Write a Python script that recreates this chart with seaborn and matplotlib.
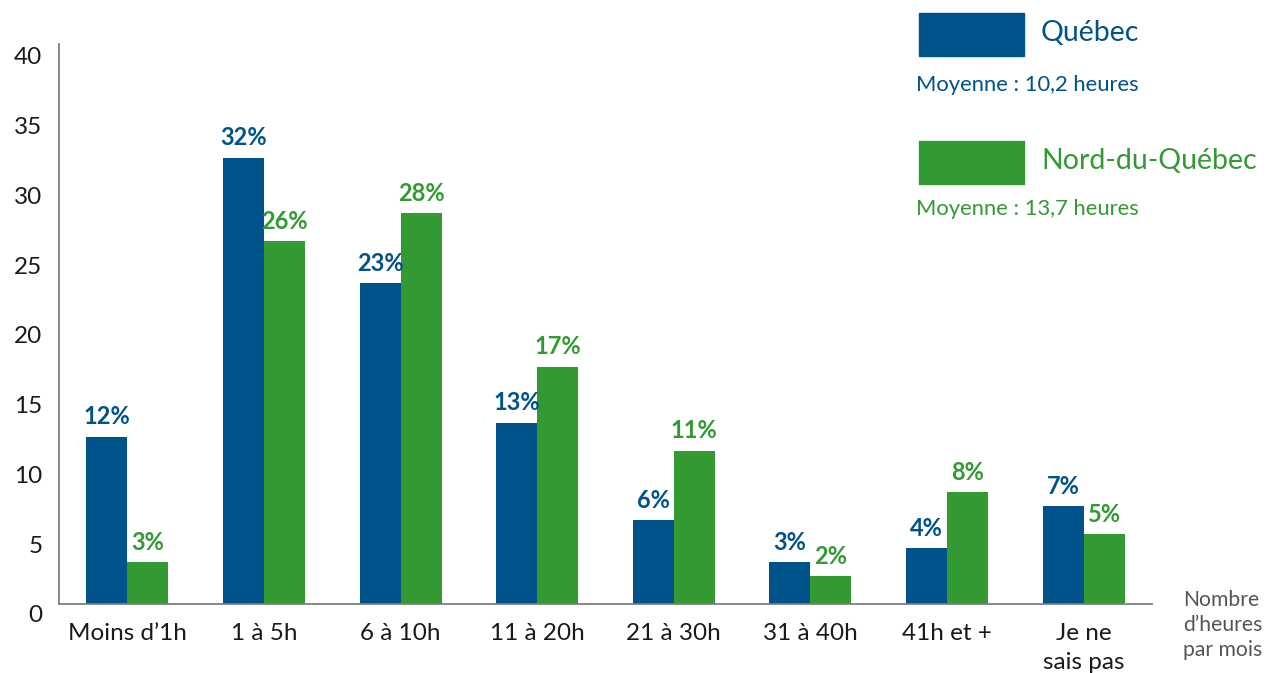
import pandas as pd
import matplotlib.pyplot as plt
import matplotlib.transforms as mtransforms
from matplotlib.patches import Rectangle
import seaborn as sns

categories = ["Moins d’1h", "1 à 5h", "6 à 10h", "11 à 20h", "21 à 30h",
              "31 à 40h", "41h et +", "Je ne\nsais pas"]
quebec = [12, 32, 23, 13, 6, 3, 4, 7]
nord = [3, 26, 28, 17, 11, 2, 8, 5]
series = ["Québec", "Nord-du-Québec"]
moyennes = ["Moyenne : 10,2 heures", "Moyenne : 13,7 heures"]
yticks = [0, 5, 10, 15, 20, 25, 30, 35, 40]

blue = "#00528a"
green = "#339933"

df = pd.DataFrame({
    "cat": categories * 2,
    "val": quebec + nord,
    "serie": [series[0]] * len(categories) + [series[1]] * len(categories),
})

sns.set_theme(style="white")
plt.rcParams["font.family"] = ["Lato", "DejaVu Sans"]

fig = plt.figure(figsize=(12.68, 6.73), dpi=100)
ax = fig.add_axes([59 / 1268, 69 / 673, (1152 - 59) / 1268, (604 - 44) / 673])

sns.barplot(data=df, x="cat", y="val", hue="serie", palette=[blue, green],
            width=0.6, saturation=1, legend=False, linewidth=0, ax=ax)

ax.set_xlim(-0.5, 7.5)
ax.set_ylim(0, 40.14)
ax.set_yticks(yticks)
ax.set_xlabel("")
ax.set_ylabel("")

for s in ["top", "right"]:
    ax.spines[s].set_visible(False)
for s in ["left", "bottom"]:
    ax.spines[s].set_color("#7f7f7f")
    ax.spines[s].set_linewidth(1.3)

ax.tick_params(axis="both", length=0, labelsize=17.5, colors="#1a1a1a")
ax.tick_params(axis="y", pad=12)
ax.tick_params(axis="x", pad=14)
for lab in ax.get_xticklabels():
    lab.set_verticalalignment("top")
    lab.set_linespacing(1.45)

# y tick labels sit a bit lower than the values in the original
off = mtransforms.ScaledTranslation(0, -10 / 100, fig.dpi_scale_trans)
for lab in ax.get_yticklabels():
    lab.set_transform(lab.get_transform() + off)

for cont, col in zip(ax.containers, [blue, green]):
    ax.bar_label(cont, labels=[f"{int(v.get_height())}%" for v in cont],
                 padding=6, color=col, fontsize=17, fontweight="bold")

# legend drawn by hand
W, H = 1268, 673
fig.patches.append(Rectangle((919 / W, 1 - 56 / H), 105 / W, 43 / H,
                             transform=fig.transFigure, color=blue))
fig.patches.append(Rectangle((919 / W, 1 - 184 / H), 105 / W, 43 / H,
                             transform=fig.transFigure, color=green))
fig.text(1041 / W, 1 - 33 / H, series[0], color=blue, fontsize=20.5, va="center")
fig.text(916 / W, 1 - 85 / H, moyennes[0], color=blue, fontsize=15.8, va="center")
fig.text(1041 / W, 1 - 161 / H, series[1], color=green, fontsize=20.5, va="center")
fig.text(916 / W, 1 - 209 / H, moyennes[1], color=green, fontsize=15.8, va="center")

fig.text(1183 / W, 1 - 656 / H, "Nombre\nd’heures\npar mois", color="#555555",
         fontsize=15.2, va="baseline", ha="left", linespacing=1.3)

fig.savefig("out.png", dpi=100)
